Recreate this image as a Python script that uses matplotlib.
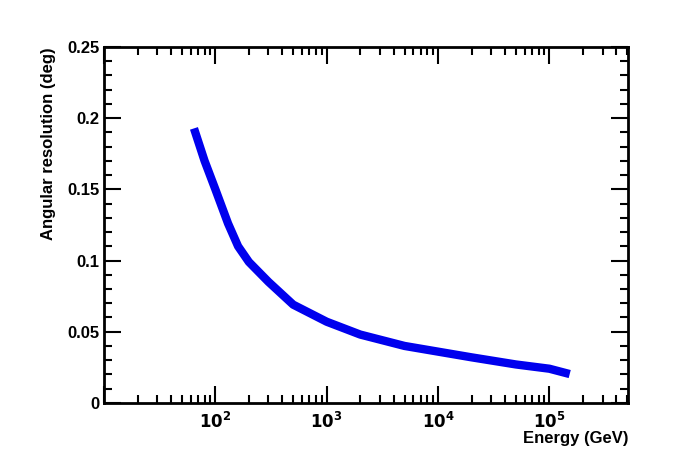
import matplotlib
matplotlib.use("Agg")
import matplotlib.pyplot as plt
from matplotlib.ticker import LogLocator, MultipleLocator, FixedLocator, FuncFormatter

plt.rcParams['font.family'] = 'Liberation Sans'
plt.rcParams['font.weight'] = 'bold'

energy = [66, 80, 100, 130, 160, 200, 300, 500, 1000, 2000, 5000, 10000, 20000, 50000, 100000, 140000]
resolution = [0.190, 0.170, 0.150, 0.126, 0.110, 0.099, 0.085, 0.069, 0.057, 0.048, 0.040, 0.036, 0.032, 0.027, 0.024, 0.021]
yticks = [0, 0.05, 0.1, 0.15, 0.2, 0.25]
ytick_labels = ["0", "0.05", "0.1", "0.15", "0.2", "0.25"]

fig = plt.figure(figsize=(6.98, 4.74), dpi=100)
ax = fig.add_axes([0.149, 0.150, 0.751, 0.751])
ax.plot(energy, resolution, color='#0000ee', lw=6)
ax.set_xscale('log')
ax.set_xlim(10, 5.1e5)
ax.set_ylim(0, 0.25)
ax.yaxis.set_major_locator(FixedLocator(yticks))
ax.set_yticklabels(ytick_labels)
ax.yaxis.set_minor_locator(MultipleLocator(0.01))
ax.xaxis.set_major_locator(LogLocator(base=10, numticks=10))
ax.xaxis.set_minor_locator(LogLocator(base=10, subs=range(2, 10), numticks=20))
ax.xaxis.set_major_formatter(FuncFormatter(lambda v, p: r'$\mathbf{10^{%d}}$' % round(__import__('math').log10(v)) if v >= 100 else ''))
ax.tick_params(which='both', direction='in', top=True, right=True, width=1.5, labelsize=12)
ax.tick_params(which='major', length=12)
ax.tick_params(which='minor', length=6)
ax.tick_params(axis='x', which='major', pad=6)
for s in ax.spines.values():
    s.set_linewidth(2)
ax.set_xlabel('Energy (GeV)', fontsize=12, fontweight='bold', loc='right', labelpad=0)
ax.set_ylabel('Angular resolution (deg)', fontsize=12, fontweight='bold', loc='top', labelpad=8)
fig.savefig('out.png', dpi=100)
